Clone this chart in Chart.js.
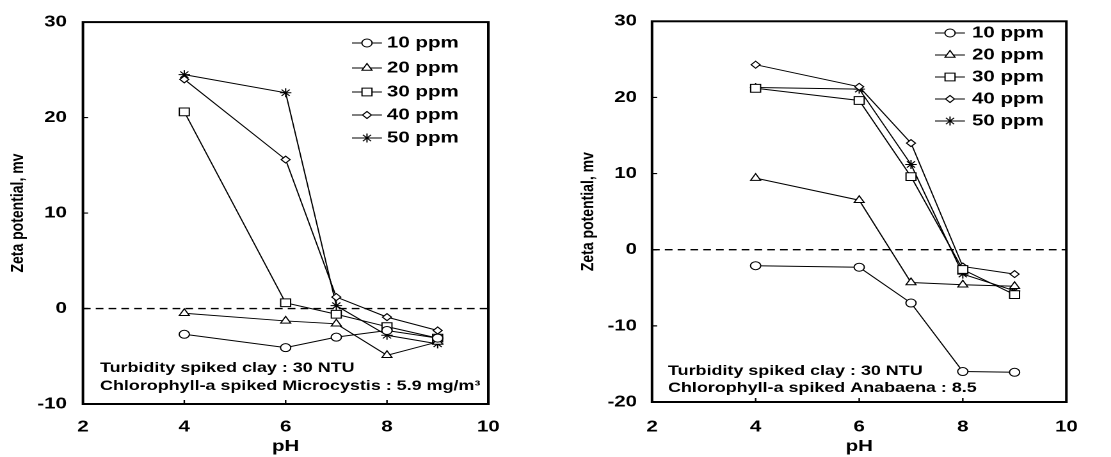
<!DOCTYPE html>
<html><head><meta charset="utf-8">
<script src="https://cdn.jsdelivr.net/npm/chart.js@4/dist/chart.umd.min.js"></script>
<style>
html,body{margin:0;padding:0;background:#fff;width:1111px;height:457px;overflow:hidden}
.wrap{position:absolute;top:0;height:457px;transform-origin:0 0;transform:scaleX(1.28)}
canvas{display:block}
</style></head><body>
<div class="wrap" style="left:0"><canvas id="c1"></canvas></div>
<div class="wrap" style="left:560px"><canvas id="c2"></canvas></div>
<script>
// ---- data ----
const pH = [4, 6, 7, 8, 9];
const seriesLabels = ['10 ppm', '20 ppm', '30 ppm', '40 ppm', '50 ppm'];
const micro10 = [-2.7, -4.1, -3.0, -2.3, -3.1];
const micro20 = [-0.5, -1.3, -1.6, -4.9, -3.5];
const micro30 = [20.6, 0.6, -0.6, -1.9, -3.1];
const micro40 = [24.0, 15.6, 1.2, -0.9, -2.3];
const micro50 = [24.5, 22.6, 0.3, -2.8, -3.7];
const ana10 = [-2.1, -2.3, -7.0, -16.0, -16.1];
const ana20 = [9.4, 6.5, -4.3, -4.6, -4.8];
const ana30 = [21.2, 19.6, 9.6, -2.6, -5.9];
const ana40 = [24.3, 21.4, 14.0, -2.2, -3.2];
const ana50 = [21.3, 21.1, 11.2, -3.2, -5.4];
const xTicks = [2, 4, 6, 8, 10];
const yTicksLeft = [-10, 0, 10, 20, 30];
const yTicksRight = [-20, -10, 0, 10, 20, 30];
const xTitle = 'pH';
const yTitle = 'Zeta potential, mv';
const notesLeft = ['Turbidity spiked clay : 30 NTU', 'Chlorophyll-a spiked Microcystis : 5.9 mg/m\u00B3'];
const notesRight = ['Turbidity spiked clay : 30 NTU', 'Chlorophyll-a spiked Anabaena : 8.5'];

// ---- styles ----
const FONT = '"Liberation Sans", Arial, sans-serif';
const markerStyles = ['circle', 'triangle', 'rect', 'rectRot', 'star'];
const markerRadii = [4, 4.5, 5.5, 3.5, 4.5];

function drawMarker(ctx, style, x, y, r) {
  ctx.save();
  ctx.beginPath();
  ctx.lineWidth = 1; ctx.strokeStyle = '#000'; ctx.fillStyle = '#fff';
  if (style === 'circle') { ctx.arc(x, y, r, 0, Math.PI * 2); ctx.fill(); ctx.stroke(); }
  else if (style === 'triangle') {
    ctx.moveTo(x, y - r); ctx.lineTo(x + r * 0.866, y + r * 0.5); ctx.lineTo(x - r * 0.866, y + r * 0.5); ctx.closePath(); ctx.fill(); ctx.stroke();
  } else if (style === 'rect') {
    const s = r * Math.SQRT1_2; ctx.rect(x - s, y - s, 2 * s, 2 * s); ctx.fill(); ctx.stroke();
  } else if (style === 'rectRot') {
    ctx.moveTo(x - r, y); ctx.lineTo(x, y - r); ctx.lineTo(x + r, y); ctx.lineTo(x, y + r); ctx.closePath(); ctx.fill(); ctx.stroke();
  } else {
    for (let k = 0; k < 4; k++) {
      const a = k * Math.PI / 4;
      ctx.moveTo(x - Math.cos(a) * r, y - Math.sin(a) * r); ctx.lineTo(x + Math.cos(a) * r, y + Math.sin(a) * r);
    }
    ctx.stroke();
  }
  ctx.restore();
}

function decorPlugin(cfg) {
  return {
    id: 'decor',
    beforeDatasetsDraw(chart) {
      const ctx = chart.ctx, a = chart.chartArea, xs = chart.scales.x, ys = chart.scales.y;
      ctx.save();
      const y0 = ys.getPixelForValue(0);
      ctx.strokeStyle = '#000'; ctx.lineWidth = 1.4; ctx.setLineDash([6, 4]);
      ctx.beginPath(); ctx.moveTo(a.left, y0); ctx.lineTo(a.right, y0); ctx.stroke();
      ctx.setLineDash([]);
      ctx.lineWidth = 1.2;
      ctx.beginPath();
      ys.ticks.forEach(t => { if (t.value > ys.min && t.value < ys.max) { const p = ys.getPixelForValue(t.value); ctx.moveTo(a.left, p); ctx.lineTo(a.left + 4, p); } });
      xs.ticks.forEach(t => { if (t.value > xs.min && t.value < xs.max) { const p = xs.getPixelForValue(t.value); ctx.moveTo(p, a.bottom); ctx.lineTo(p, a.bottom - 4); } });
      ctx.stroke();
      ctx.lineWidth = 2;
      ctx.strokeRect(a.left, a.top, a.right - a.left, a.bottom - a.top);
      ctx.restore();
    },
    afterDraw(chart) {
      const ctx = chart.ctx;
      ctx.save();
      ctx.font = 'bold 16px ' + FONT; ctx.fillStyle = '#000'; ctx.textBaseline = 'middle'; ctx.textAlign = 'left';
      chart.data.datasets.forEach((ds, i) => {
        const y = cfg.legRows[i];
        ctx.strokeStyle = '#000'; ctx.lineWidth = 1;
        ctx.beginPath(); ctx.moveTo(cfg.legX0, y); ctx.lineTo(cfg.legX1, y); ctx.stroke();
        drawMarker(ctx, ds.pointStyle, (cfg.legX0 + cfg.legX1) / 2, y, ds.pointRadius);
        ctx.fillText(ds.label, cfg.legText, y);
      });
      ctx.font = 'bold 14px ' + FONT;
      cfg.notes.forEach((t, i) => ctx.fillText(t, cfg.noteX, cfg.noteY[i]));
      ctx.restore();
    }
  };
}

function makeChart(id, cfg) {
  const canvas = document.getElementById(id);
  canvas.width = cfg.W; canvas.height = 457;
  const tickFont = { family: FONT, size: 16, weight: 'bold' };
  return new Chart(canvas, {
    type: 'line',
    data: {
      datasets: cfg.series.map((vals, i) => ({
        label: seriesLabels[i],
        data: pH.map((x, j) => ({ x: x, y: vals[j] })),
        borderColor: '#000', borderWidth: 1, backgroundColor: '#fff',
        pointStyle: markerStyles[i], pointRadius: markerRadii[i],
        pointBorderColor: '#000', pointBackgroundColor: '#fff', pointBorderWidth: 1,
        tension: 0, fill: false
      }))
    },
    options: {
      responsive: false, animation: false, devicePixelRatio: 2,
      layout: { padding: { top: cfg.top, right: cfg.padRight, left: 0, bottom: 0 } },
      plugins: { legend: { display: false }, tooltip: { enabled: false } },
      scales: {
        x: {
          type: 'linear', min: xTicks[0], max: xTicks[xTicks.length - 1],
          afterBuildTicks: s => { s.ticks = xTicks.map(v => ({ value: v })); },
          grid: { display: false, drawTicks: false }, border: { display: false },
          ticks: { padding: cfg.xPad, font: tickFont, color: '#000', maxRotation: 0 },
          title: { display: true, text: xTitle, color: '#000', font: { family: FONT, size: 16, weight: 'bold' }, padding: { top: 0, bottom: 1 } },
          afterFit: s => { s.height = cfg.xH; }
        },
        y: {
          type: 'linear', min: cfg.yTicks[0], max: cfg.yTicks[cfg.yTicks.length - 1],
          afterBuildTicks: s => { s.ticks = cfg.yTicks.map(v => ({ value: v })); },
          grid: { display: false, drawTicks: false }, border: { display: false },
          ticks: { padding: cfg.yPad, font: tickFont, color: '#000' },
          title: { display: true, text: yTitle, color: '#000', font: { family: FONT, size: 14, weight: 'bold' }, padding: { top: cfg.yTitlePad, bottom: 0 } },
          afterFit: s => { s.width = cfg.yW; }
        }
      }
    },
    plugins: [decorPlugin(cfg)]
  });
}

makeChart('c1', {
  W: 437.5, top: 18, padRight: 55.5, xH: 53, yW: 64.8, xPad: 13.4, yPad: 12.5, yTitlePad: 5.6,
  yTicks: yTicksLeft, series: [micro10, micro20, micro30, micro40, micro50],
  legX0: 275, legX1: 298.4, legText: 302.3, legRows: [43, 68, 92, 115, 138],
  notes: notesLeft, noteX: 78.1, noteY: [368, 386]
});
makeChart('c2', {
  W: 430.5, top: 15, padRight: 34.4, xH: 55, yW: 71.9, xPad: 15.4, yPad: 11.7, yTitlePad: 13.5,
  yTicks: yTicksRight, series: [ana10, ana20, ana30, ana40, ana50],
  legX0: 293, legX1: 316.4, legText: 321.9, legRows: [33, 55, 77, 99, 121],
  notes: notesRight, noteX: 84.4, noteY: [371, 388]
});
</script>
</body></html>
